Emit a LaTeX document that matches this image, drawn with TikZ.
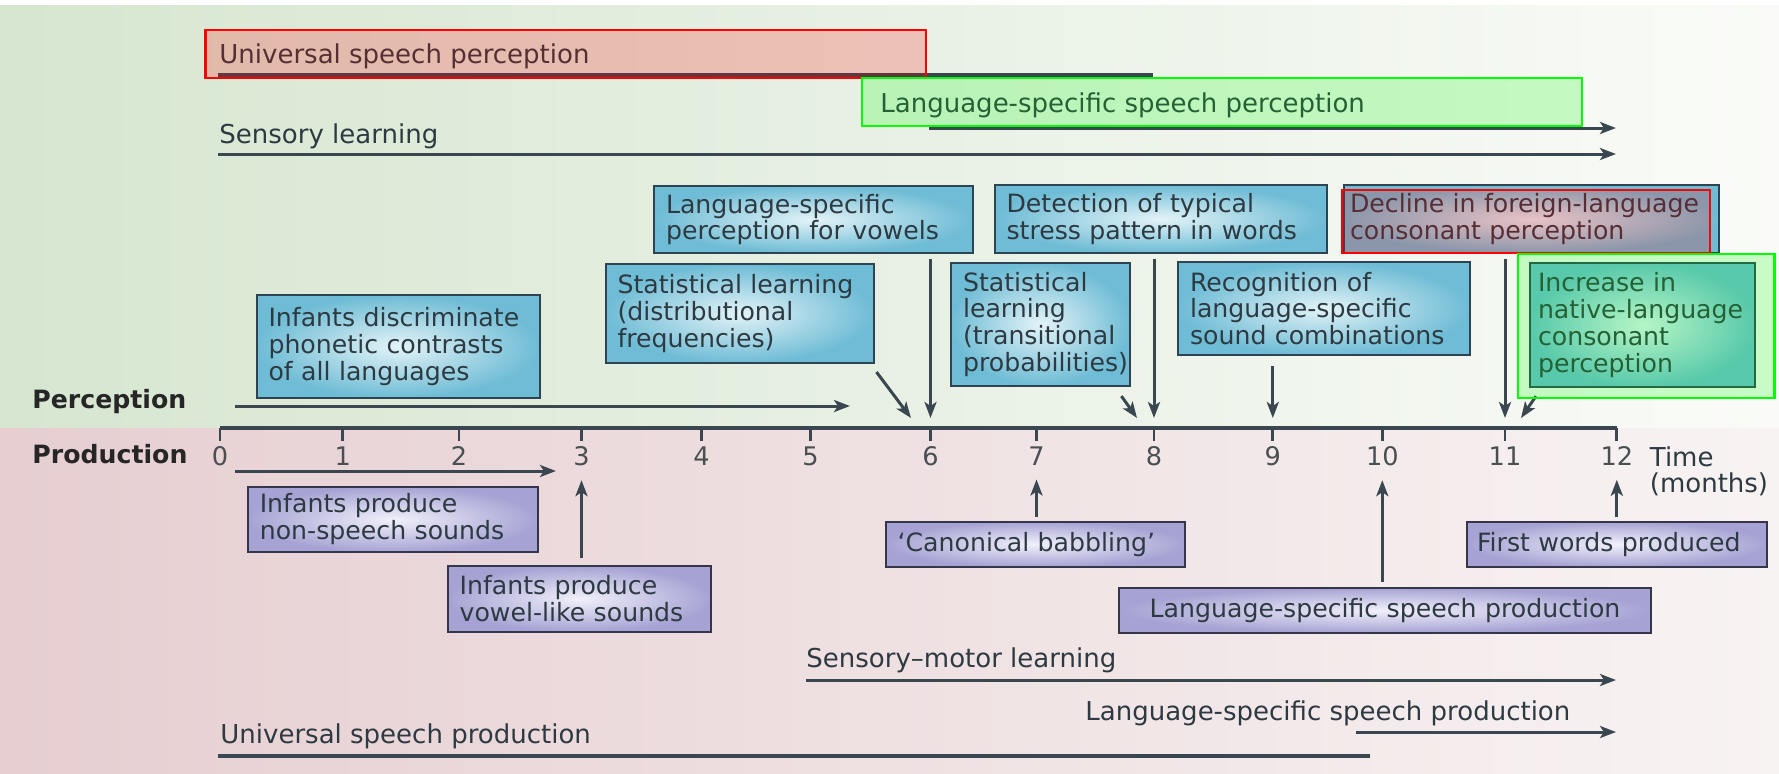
\documentclass[tikz,border=0pt]{standalone}
\usepackage{fontspec}
\setmainfont{DejaVu Sans}
\usepackage{tikz}
\usetikzlibrary{positioning, arrows.meta, calc}
\usepackage{xcolor}
\definecolor{bgtopL}{HTML}{D6E6D0}
\definecolor{bgtopR}{HTML}{FAFBF8}
\definecolor{bgbotL}{HTML}{E6CED1}
\definecolor{bgbotR}{HTML}{F8F3F3}
\definecolor{bluein}{HTML}{E3F3F7}
\definecolor{blueout}{HTML}{6EBCD5}
\definecolor{bluebd}{HTML}{2E4452}
\definecolor{purpin}{HTML}{F1F0FA}
\definecolor{purpout}{HTML}{A6A3D4}
\definecolor{purpbd}{HTML}{36364A}
\definecolor{arrc}{HTML}{3A4750}
\definecolor{txt}{HTML}{2E3A42}
\definecolor{numc}{HTML}{4A4F52}

\begin{document}
\begin{tikzpicture}[x=0.5pt, y=-0.5pt,
	lbl/.style={anchor=base west, inner sep=0pt, text=txt, font=\fontsize{13}{13.4}\selectfont},
	axlbl/.style={anchor=base west, inner sep=0pt, text=black!85, font=\bfseries\fontsize{12.6}{13}\selectfont},
	num/.style={inner sep=0pt, text=numc, font=\fontsize{12.8}{13}\selectfont},
	percbox/.style={draw=bluebd, line width=1pt, inner color=bluein, outer color=blueout, anchor=north west, align=left, inner xsep=6pt, inner ysep=1pt, text=txt, font=\fontsize{12.6}{13.4}\selectfont},
	prodbox/.style={percbox, draw=purpbd, inner color=purpin, outer color=purpout},
	arr/.style={draw=arrc, line width=1.5pt, -{Stealth[length=8pt, width=6pt, inset=2pt]}},
	bar/.style={draw=arrc, line width=1.6pt},
	tick/.style={draw=arrc, line width=1.4pt},
	redmark/.style={draw=red, line width=1.1pt, fill=red, fill opacity=0.2},
	greenmark/.style={draw=green, line width=1.1pt, fill=green, fill opacity=0.2}]

	\useasboundingbox (0,0) rectangle (1779,773);
	\fill[white] (0,0) rectangle (1779,773);
	\shade[left color=bgtopL, right color=bgtopR] (0,5) rectangle (1779,428);
	\shade[left color=bgbotL, right color=bgbotR] (0,428) rectangle (1779,773);

	\foreach \m/\x in {0/220,1/342.7,2/459,3/581.5,4/701.5,5/810.6,6/930.5,7/1036.5,8/1154,9/1272.8,10/1382.3,11/1505,12/1616.8} {
		\coordinate (t\m) at (\x,428);
		\draw[tick] (t\m) -- ++(0,13);
		\node[num, below=9pt of t\m] (n\m) {\m};
	}
	\draw[draw=arrc, line width=2pt] (t0) -- (t12);
	\node[lbl, right=8pt of n12.north east, anchor=north west, align=left] (time) {Time\\(months)};

	\coordinate (usp0) at (218,75);
	\coordinate (usp1) at (1153,75);
	\coordinate (lsp0) at (929,128);
	\coordinate (lsp1) at (1616,128);
	\coordinate (sl0) at (218,154);
	\coordinate (sl1) at (1616,154);
	\coordinate (pc0) at (235,406);
	\coordinate (pc1) at (850,406);
	\coordinate (ns0) at (235,471);
	\coordinate (ns1) at (556,471);
	\coordinate (sm0) at (806,680);
	\coordinate (sm1) at (1616,680);
	\coordinate (lsq0) at (1356,732);
	\coordinate (lsq1) at (1616,732);
	\coordinate (usq0) at (218,756);
	\coordinate (usq1) at (1370,756);

	\node[lbl] (usp) at (219,63) {Universal speech perception};
	\node[lbl] (lsp) at (880,112) {Language-specific speech perception};
	\node[lbl] (sl) at (219,143) {Sensory learning};
	\node[axlbl] (perc) at (32,408) {Perception};
	\node[axlbl] (prod) at (32,463) {Production};
	\node[lbl] (sm) at (806,667) {Sensory--motor learning};
	\node[lbl] (lsq) at (1085,720) {Language-specific speech production};
	\node[lbl] (usq) at (220,743) {Universal speech production};

	\draw[bar] (usp0) -- (usp1);
	\draw[arr] (lsp0) -- (lsp1);
	\draw[arr] (sl0) -- (sl1);
	\draw[arr] (pc0) -- (pc1);
	\draw[arr] (ns0) -- (ns1);
	\draw[arr] (sm0) -- (sm1);
	\draw[arr] (lsq0) -- (lsq1);
	\draw[bar] (usq0) -- (usq1);

	\node[percbox, text width=129.5pt, minimum height=51.5pt] (disc) at (255.5,294) {Infants discriminate\\phonetic contrasts\\of all languages};
	\node[percbox, text width=122pt, minimum height=49.5pt] (distr) at (604.5,263) {Statistical learning\\(distributional\\frequencies)};
	\node[percbox, text width=147.5pt, minimum height=33.5pt] (vowels) at (653,185) {Language-specific\\perception for vowels};
	\node[percbox, text width=77.7pt, minimum height=61.7pt] (trans) at (950,261.7) {Statistical\\learning\\(transitional\\probabilities)};
	\node[percbox, text width=154.3pt, minimum height=33.8pt] (stress) at (993.5,184) {Detection of typical\\stress pattern in words};
	\node[percbox, text width=134pt, minimum height=46.7pt] (recog) at (1177,260.7) {Recognition of\\language-specific\\sound combinations};
	\node[percbox, text width=181.5pt, inner xsep=3pt, minimum height=34pt] (decline) at (1343,184) {\mbox{Decline in foreign-language}\\consonant perception};
	\node[percbox, text width=104.7pt, inner xsep=4pt, minimum height=62.2pt] (incr) at (1529,261.7) {Increase in\\\mbox{native-language}\\consonant\\perception};

	\node[prodbox, text width=133pt, minimum height=32.7pt] (nonsp) at (246.8,485.7) {Infants produce\\non-speech sounds};
	\node[prodbox, text width=119.7pt, minimum height=32.8pt] (vowlike) at (446.6,565) {Infants produce\\vowel-like sounds};
	\node[prodbox, text width=137.7pt, minimum height=22.5pt] (canon) at (884.6,520.7) {`Canonical babbling'};
	\node[prodbox, text width=140pt, inner xsep=5pt, minimum height=22.5pt] (first) at (1466,520.7) {First words produced};
	\node[prodbox, text width=254pt, minimum height=22.3pt, align=center] (lsprod) at (1118,587) {Language-specific speech production};

	\coordinate (d6) at (911,418);
	\coordinate (d8) at (1137,418);
	\coordinate (d11) at (1521,418);
	\draw[arr, shorten <=2.5pt, shorten >=5pt] (vowels.south -| t6) -- (t6);
	\draw[arr, shorten <=2.5pt, shorten >=5pt] (stress.south -| t8) -- (t8);
	\draw[arr, shorten <=2.5pt, shorten >=5pt] (decline.south -| t11) -- (t11);
	\draw[arr, shorten <=5pt, shorten >=5pt] (recog.south -| t9) -- (t9);
	\draw[arr] ([xshift=1pt, yshift=-4pt]distr.south east) -- (d6);
	\draw[arr] ([xshift=-5pt, yshift=-4.5pt]trans.south east) -- (d8);
	\draw[arr] ([xshift=3.5pt, yshift=-4pt]incr.south west) -- (d11);

	\draw[arr, shorten <=3.5pt, shorten >=7pt] (vowlike.north -| n3) -- (n3.south);
	\draw[arr, shorten <=2pt, shorten >=7pt] (canon.north -| n7) -- (n7.south);
	\draw[arr, shorten <=2.6pt, shorten >=7pt] (lsprod.north -| n10) -- (n10.south);
	\draw[arr, shorten <=2pt, shorten >=7pt] (first.north -| n12) -- (n12.south);

	\draw[redmark] (205.5,30) rectangle (925.8,77.7);
	\draw[redmark] (1342,190) rectangle (1710,253);
	\draw[greenmark] (862,78) rectangle (1582,126);
	\draw[greenmark] (1518,254) rectangle (1774.5,398.3);
\end{tikzpicture}
\end{document}
